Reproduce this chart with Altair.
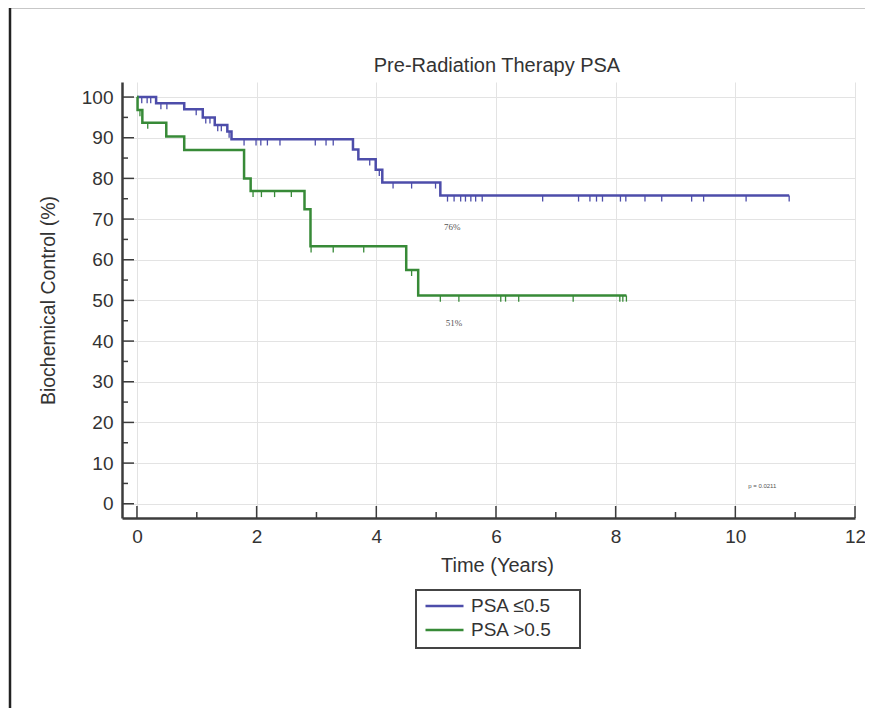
import altair as alt
import pandas as pd

groups = ["PSA ≤0.5", "PSA >0.5"]
colors = ["#4d4daa", "#378a37"]

# Kaplan-Meier step points (time in years, biochemical control %)
blue_t = [0, 0.32, 0.79, 1.10, 1.30, 1.51, 1.58, 3.61, 3.70, 3.99, 4.10, 5.07, 10.9]
blue_s = [100, 98.5, 97.0, 95.0, 93.1, 91.5, 89.6, 87.1, 84.7, 82.1, 79.0, 75.8, 75.8]
green_t = [0, 0.01, 0.09, 0.49, 0.79, 1.79, 1.90, 2.80, 2.90, 4.50, 4.70, 8.18]
green_s = [100, 96.8, 93.7, 90.3, 87.0, 80.0, 76.9, 72.4, 63.3, 57.5, 51.2, 51.2]

# Censored observations
blue_ct = [0.08, 0.17, 0.23, 0.40, 0.50, 0.99, 1.15, 1.22, 1.35, 1.41, 1.54,
           1.79, 1.99, 2.07, 2.18, 2.39, 2.98, 3.16, 3.28, 3.89, 4.05,
           4.28, 4.59, 4.99, 5.19, 5.30, 5.41, 5.49, 5.58, 5.66, 5.77,
           6.78, 7.38, 7.57, 7.68, 7.78, 8.08, 8.17, 8.49, 8.77, 9.27, 9.47, 10.18, 10.9]
blue_cs = [100, 100, 100, 98.5, 98.5, 97.0, 95.0, 95.0, 93.1, 93.1, 91.5,
           89.6, 89.6, 89.6, 89.6, 89.6, 89.6, 89.6, 89.6, 84.7, 82.1,
           79.0, 79.0, 79.0, 75.8, 75.8, 75.8, 75.8, 75.8, 75.8, 75.8,
           75.8, 75.8, 75.8, 75.8, 75.8, 75.8, 75.8, 75.8, 75.8, 75.8, 75.8, 75.8, 75.8]
green_ct = [0.05, 0.18, 1.94, 2.08, 2.30, 2.58, 2.91, 3.28, 3.79, 4.59,
            5.07, 5.38, 6.08, 6.16, 6.38, 7.29, 8.07, 8.12, 8.18]
green_cs = [96.8, 93.7, 76.9, 76.9, 76.9, 76.9, 63.3, 63.3, 63.3, 57.5,
            51.2, 51.2, 51.2, 51.2, 51.2, 51.2, 51.2, 51.2, 51.2]

title_text = ["Pre-Radiation Therapy PSA"]
note_text = ["76%", "51%"]
note_t = [5.27, 5.30]
note_s = [68.0, 44.5]
p_text = ["p = 0.0211"]
p_t = [10.45]
p_s = [4.4]

x_major = [0, 2, 4, 6, 8, 10, 12]
x_minor = [1, 3, 5, 7, 9, 11]
y_major = [0, 10, 20, 30, 40, 50, 60, 70, 80, 90, 100]
y_minor = [5, 15, 25, 35, 45, 55, 65, 75, 85, 95]

W, H = 733, 436
FONT = "Liberation Sans"
AX = "#3c3c3c"
TXT = "#333"

curves = pd.DataFrame({
    "t": blue_t + green_t,
    "s": blue_s + green_s,
    "group": [groups[0]] * len(blue_t) + [groups[1]] * len(green_t),
})
cens = pd.DataFrame({
    "t": blue_ct + green_ct,
    "s": blue_cs + green_cs,
    "group": [groups[0]] * len(blue_ct) + [groups[1]] * len(green_ct),
})
cens["s2"] = cens["s"] - 1.5

xscale = alt.Scale(domain=[-0.25, 12], nice=False, zero=False)
yscale = alt.Scale(domain=[-3.5, 103.7], nice=False, zero=False)
cscale = alt.Scale(domain=groups, range=colors)

legend = alt.Legend(
    title=None, orient="none", legendX=302, legendY=514,
    symbolType="stroke", symbolSize=1444, symbolStrokeWidth=2.5,
    labelFont=FONT, labelFontSize=19, labelColor=TXT, labelLimit=200,
    padding=0, rowPadding=4, labelOffset=6, clipHeight=20,
)

color_enc = alt.Color("group:N", scale=cscale, legend=legend, sort=groups)

lines = alt.Chart(curves).mark_line(interpolate="step-after", strokeWidth=2.5).encode(
    x=alt.X("t:Q", scale=xscale, axis=alt.Axis(
        values=x_major, format="d", title="Time (Years)", grid=True, gridColor="#e3e3e3",
        tickSize=0, labelPadding=9, labelFont=FONT, labelFontSize=19, labelColor=TXT,
        labelFlush=False,
        domainColor=AX, domainWidth=2.5, titleFont=FONT, titleFontSize=20,
        titleFontWeight="normal", titleColor=TXT, titlePadding=9, titleX=375)),
    y=alt.Y("s:Q", scale=yscale, axis=alt.Axis(
        values=y_major, format="d", title="Biochemical Control (%)", grid=True, gridColor="#e3e3e3",
        tickSize=0, labelPadding=9, labelFont=FONT, labelFontSize=19, labelColor=TXT,
        labelFlush=False,
        domainColor=AX, domainWidth=2.5, titleFont=FONT, titleFontSize=19.5,
        titleFontWeight="normal", titleColor=TXT, titlePadding=23)),
    color=color_enc,
)

cmarks = alt.Chart(cens).mark_rule(strokeWidth=1.3).encode(
    x=alt.X("t:Q", scale=xscale),
    y=alt.Y("s:Q", scale=yscale),
    y2="s2:Q",
    color=color_enc,
)

ytm = alt.Chart(pd.DataFrame({"v": y_major})).mark_rule(color=AX, strokeWidth=1.5).encode(
    y=alt.Y("v:Q", scale=yscale), x=alt.value(0), x2=alt.value(12))
ytn = alt.Chart(pd.DataFrame({"v": y_minor})).mark_rule(color=AX, strokeWidth=1.5).encode(
    y=alt.Y("v:Q", scale=yscale), x=alt.value(0), x2=alt.value(6))
xtm = alt.Chart(pd.DataFrame({"v": x_major})).mark_rule(color=AX, strokeWidth=1.5).encode(
    x=alt.X("v:Q", scale=xscale), y=alt.value(H), y2=alt.value(H - 12))
xtn = alt.Chart(pd.DataFrame({"v": x_minor})).mark_rule(color=AX, strokeWidth=1.5).encode(
    x=alt.X("v:Q", scale=xscale), y=alt.value(H), y2=alt.value(H - 6))

notes = alt.Chart(pd.DataFrame({"t": note_t, "s": note_s, "txt": note_text})).mark_text(
    font="Liberation Serif", fontSize=9, color="#555", align="center").encode(
    x=alt.X("t:Q", scale=xscale), y=alt.Y("s:Q", scale=yscale), text="txt:N")
ptxt = alt.Chart(pd.DataFrame({"t": p_t, "s": p_s, "txt": p_text})).mark_text(
    font=FONT, fontSize=6, color="#555", align="center").encode(
    x=alt.X("t:Q", scale=xscale), y=alt.Y("s:Q", scale=yscale), text="txt:N")

title = alt.Chart(pd.DataFrame({"txt": title_text})).mark_text(
    font=FONT, fontSize=20, color=TXT, align="center", baseline="middle").encode(
    x=alt.value(375), y=alt.value(-16), text="txt:N")

one = pd.DataFrame({"a": [0]})
frame_left = alt.Chart(one).mark_rule(color="#222", strokeWidth=2.5).encode(
    x=alt.value(-112), y=alt.value(-75), y2=alt.value(700))
frame_top = alt.Chart(one).mark_rule(color="#222", strokeWidth=2.5).encode(
    x=alt.value(-113), x2=alt.value(800), y=alt.value(-75))
legend_box = alt.Chart(one).mark_rect(fill="white", stroke="#444", strokeWidth=2).encode(
    x=alt.value(294), x2=alt.value(458), y=alt.value(508), y2=alt.value(566))

chart = alt.layer(
    legend_box, lines, cmarks, ytm, ytn, xtm, xtn, notes, ptxt, title, frame_left, frame_top
).properties(
    width=W, height=H,
    autosize=alt.AutoSizeParams(type="none"),
    padding={"left": 114, "top": 74, "right": 10, "bottom": 190},
).configure_view(strokeOpacity=0)

chart.save("out.html", embed_options={"renderer": "svg", "actions": False})
